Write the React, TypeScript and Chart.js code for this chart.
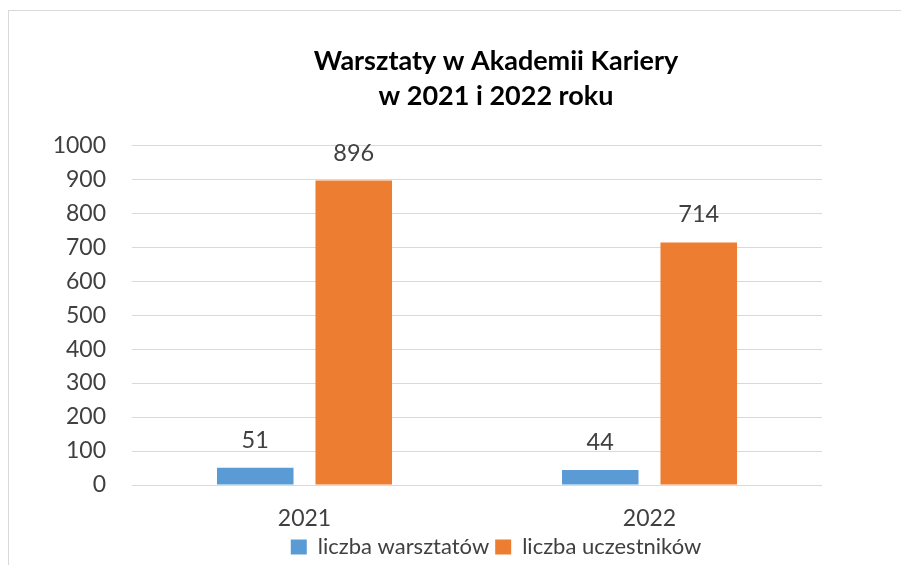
import React, { useEffect, useRef } from "react";
import { Chart, registerables } from "chart.js";

Chart.register(...registerables);

const categories = ["2021", "2022"];
const workshops = [51, 44];
const participants = [896, 714];
const seriesNames = ["liczba warsztatów", "liczba uczestników"];
const titleLines = ["Warsztaty w Akademii Kariery", "w 2021 i 2022 roku"];
const yMin = 0;
const yMax = 1000;
const yStep = 100;

const FONT = "Lato";
const TEXT = "#404040";

const valueLabels = {
  id: "valueLabels",
  afterDatasetsDraw(chart: any) {
    const ctx = chart.ctx;
    ctx.save();
    ctx.font = `23.5px ${FONT}`;
    ctx.fillStyle = TEXT;
    ctx.textAlign = "center";
    ctx.textBaseline = "alphabetic";
    chart.data.datasets.forEach((ds: any, i: number) => {
      const meta = chart.getDatasetMeta(i);
      meta.data.forEach((el: any, j: number) => {
        ctx.fillText(String(ds.data[j]), el.x, el.y - 20);
      });
    });
    ctx.restore();
  },
};

export default function App() {
  const ref = useRef<HTMLCanvasElement>(null);
  useEffect(() => {
    if (!ref.current) return;
    const chart = new Chart(ref.current, {
      type: "bar",
      data: {
        labels: categories,
        datasets: [
          {
            label: seriesNames[0],
            data: workshops,
            backgroundColor: "#5B9BD5",
            categoryPercentage: 0.571,
            barPercentage: 0.777,
          },
          {
            label: seriesNames[1],
            data: participants,
            backgroundColor: "#ED7D31",
            categoryPercentage: 0.571,
            barPercentage: 0.777,
          },
        ],
      },
      options: {
        animation: false,
        responsive: false,
        maintainAspectRatio: false,
        layout: { padding: { left: 0, right: 0, top: 0, bottom: 0 } },
        plugins: {
          title: {
            display: true,
            text: titleLines,
            color: "#000000",
            font: { family: FONT, size: 27, weight: "bold", lineHeight: 1.3 },
            padding: { top: 44, bottom: 31 },
          },
          legend: {
            position: "bottom",
            labels: {
              boxWidth: 16,
              boxHeight: 15,
              color: TEXT,
              font: { family: FONT, size: 22 },
              padding: 6,
            },
          },
          tooltip: { enabled: false },
        },
        scales: {
          x: {
            grid: { display: false },
            border: { display: false },
            ticks: { color: TEXT, font: { family: FONT, size: 23 }, padding: 12 },
            afterFit: (s: any) => {
              s.height = 45;
            },
          },
          y: {
            min: yMin,
            max: yMax,
            grid: { color: "#d9d9d9", drawTicks: false, lineWidth: 1 },
            border: { display: false },
            ticks: {
              stepSize: yStep,
              color: TEXT,
              font: { family: FONT, size: 23 },
              padding: 26,
              callback: (v: any) => String(v),
            },
            afterFit: (s: any) => {
              s.width = 132;
            },
          },
          yRight: {
            type: "linear",
            position: "right",
            display: true,
            grid: { display: false },
            border: { display: false },
            ticks: { display: false },
            afterFit: (s: any) => {
              s.width = 170;
            },
          },
        },
      },
      plugins: [valueLabels],
    });
    return () => chart.destroy();
  }, []);

  return (
    <div
      style={{
        position: "fixed",
        left: 0,
        top: 0,
        width: 901,
        height: 565,
        overflow: "hidden",
        background: "#ffffff",
      }}
    >
      <div
        style={{
          position: "absolute",
          left: 8,
          top: 10,
          width: 1000,
          height: 700,
          border: "1px solid #d9d9d9",
          boxSizing: "border-box",
        }}
      />
      <canvas
        ref={ref}
        width={992}
        height={568}
        style={{ position: "absolute", left: 0, top: 0, width: 992, height: 568 }}
      />
    </div>
  );
}
